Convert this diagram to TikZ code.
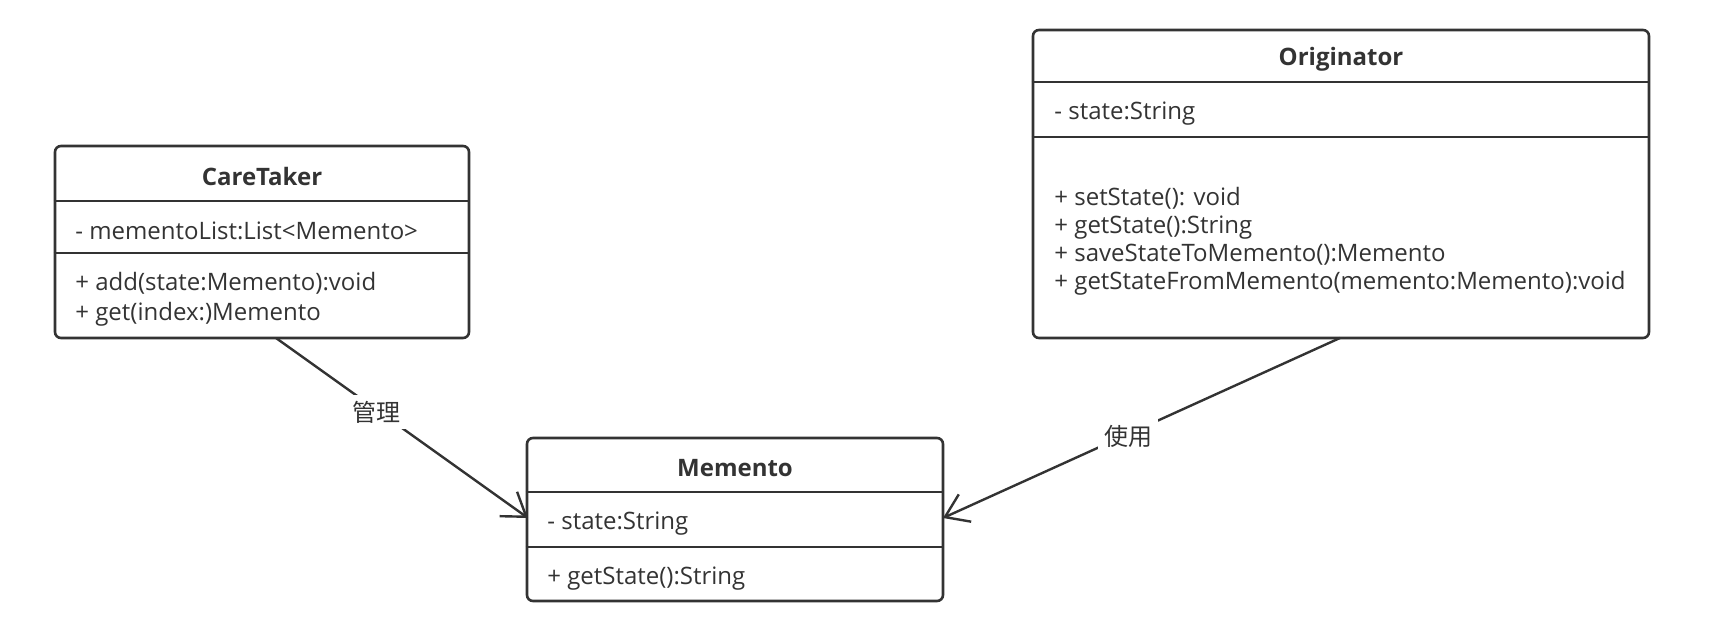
\documentclass[tikz,border=0pt]{standalone}
\usepackage{fontspec}
\setmainfont{Open Sans}
\newfontfamily\cjk{Noto Sans CJK SC}
\usetikzlibrary{arrows.meta}
\definecolor{ink}{HTML}{333333}
\begin{document}
\begin{tikzpicture}[x=0.5pt,y=-0.5pt,
  classbox/.style={draw=ink, line width=1.3pt, rounded corners=3pt, inner sep=0pt},
  sepline/.style={draw=ink, line width=1.3pt},
  member/.style={anchor=west, inner sep=0pt, yshift=-1.6pt, text=ink, font=\fontsize{12pt}{14pt}\selectfont, align=left},
  titletext/.style={inner sep=0pt, yshift=-1.6pt, text=ink, font=\fontsize{12pt}{14pt}\selectfont\bfseries},
  link/.style={draw=ink, line width=1.2pt, -{Straight Barb[length=11pt,width=15pt]}},
  lbl/.style={fill=white, inner sep=3pt, yshift=-1.2pt, text=ink, font=\cjk\fontsize{12pt}{14pt}\selectfont}]
\useasboundingbox (0,0) rectangle (1721,641);

% CareTaker
\node[classbox, minimum width=207pt, minimum height=96pt] (ct) at (262,242) {};
\draw[sepline] (ct.west |- 0,201) -- (ct.east |- 0,201);
\draw[sepline] (ct.west |- 0,253) -- (ct.east |- 0,253);
\node[titletext] (ctt) at (262,173) {CareTaker};
\node[member] (cta) at (75,228) {- mementoList:List<Memento>};
\node[member, font=\fontsize{12pt}{15pt}\selectfont] (ctm) at (75,296) {+ add(state:Memento):void\\+ get(index:)Memento};

% Memento
\node[classbox, minimum width=208pt, minimum height=81.5pt] (mm) at (735,519.5) {};
\draw[sepline] (mm.west |- 0,492) -- (mm.east |- 0,492);
\draw[sepline] (mm.west |- 0,547) -- (mm.east |- 0,547);
\node[titletext] (mmt) at (735,465) {Memento};
\node[member] (mma) at (547,520) {- state:String};
\node[member] (mmm) at (547,575) {+ getState():String};

% Originator
\node[classbox, minimum width=308pt, minimum height=154pt] (or) at (1341,184) {};
\draw[sepline] (or.west |- 0,82) -- (or.east |- 0,82);
\draw[sepline] (or.west |- 0,137) -- (or.east |- 0,137);
\node[titletext] (ort) at (1341,56) {Originator};
\node[member] (ora) at (1054,110) {- state:String};
\node[member] (orm) at (1054,238) {+ setState(): void\\+ getState():String\\+ saveStateToMemento():Memento\\+ getStateFromMemento(memento:Memento):void};

% connectors
\coordinate (ctb) at (276,338);
\coordinate (mml) at (528,518);
\coordinate (orb) at (1340,338);
\coordinate (mmr) at (943,518);
\draw[link] (ctb) -- node[lbl, pos=0.4] (l1) {管理} (mml);
\draw[link] (orb) -- node[lbl, pos=0.534] (l2) {使用} (mmr);
\end{tikzpicture}
\end{document}
